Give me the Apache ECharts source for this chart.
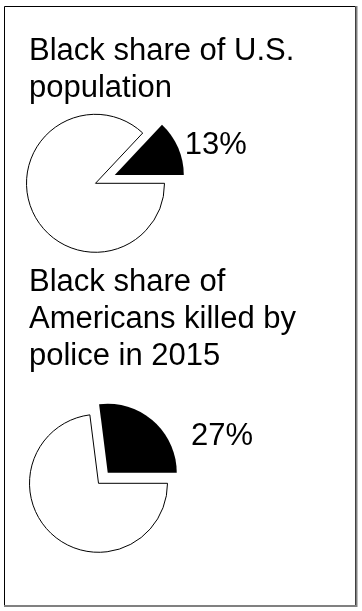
<!DOCTYPE html>
<html>
<head>
<meta charset="utf-8">
<script src="https://cdn.jsdelivr.net/npm/echarts@6/dist/echarts.min.js"></script>
<style>
html,body{margin:0;padding:0;background:#fff;}
#chart{width:362px;height:611px;}
</style>
</head>
<body>
<div id="chart"></div>
<script>
const categories = ['Black', 'Other'];
const populationShare = [13, 87];
const killedShare = [27, 73];
const titles = ['Black share of U.S.\npopulation', 'Black share of\nAmericans killed by\npolice in 2015'];

const FONT = '"Liberation Sans", Arial, Helvetica, sans-serif';

function pieData(values) {
  return categories.map((name, i) => ({
    name: name,
    value: values[i],
    selected: i === 0,
    itemStyle: i === 0
      ? { color: '#000', borderWidth: 0 }
      : { color: '#fff', borderColor: '#000', borderWidth: 1 },
    label: { show: i === 0 }
  }));
}

function pieSeries(values, center, offset, labelShift) {
  return {
    type: 'pie',
    center: center,
    radius: [0, 69],
    startAngle: 0,
    clockwise: false,
    selectedMode: 'single',
    selectedOffset: offset,
    avoidLabelOverlap: false,
    animation: false,
    silent: true,
    emphasis: { disabled: true },
    label: {
      position: 'inside',
      formatter: '{c}%',
      color: '#000',
      fontFamily: FONT,
      fontSize: 31
    },
    labelLine: { show: false },
    labelLayout: { dx: labelShift[0], dy: labelShift[1] },
    data: pieData(values)
  };
}

const chart = echarts.init(document.getElementById('chart'), null, { renderer: 'canvas' });
chart.setOption({
  backgroundColor: '#fff',
  animation: false,
  title: [
    {
      text: titles[0], left: 29, top: 33, padding: 0,
      textStyle: { fontFamily: FONT, fontSize: 31, fontWeight: 'normal', color: '#000', lineHeight: 37 }
    },
    {
      text: titles[1], left: 29, top: 264, padding: 0,
      textStyle: { fontFamily: FONT, fontSize: 31, fontWeight: 'normal', color: '#000', lineHeight: 37 }
    }
  ],
  graphic: [
    { type: 'rect', shape: { x: 4.5, y: 6.5, width: 351, height: 599 }, style: { fill: null, stroke: '#000', lineWidth: 1 }, silent: true },
    { type: 'line', shape: { x1: 356.5, y1: 6, x2: 356.5, y2: 607 }, style: { stroke: '#808080', lineWidth: 2 }, silent: true },
    { type: 'line', shape: { x1: 4, y1: 606, x2: 357, y2: 606 }, style: { stroke: '#808080', lineWidth: 2 }, silent: true }
  ],
  series: [
    pieSeries(populationShare, [95.5, 183.3], 21, [66.5, -15]),
    pieSeries(killedShare, [98.5, 483.3], 14, [89.5, -8.5])
  ]
});
</script>
</body>
</html>
